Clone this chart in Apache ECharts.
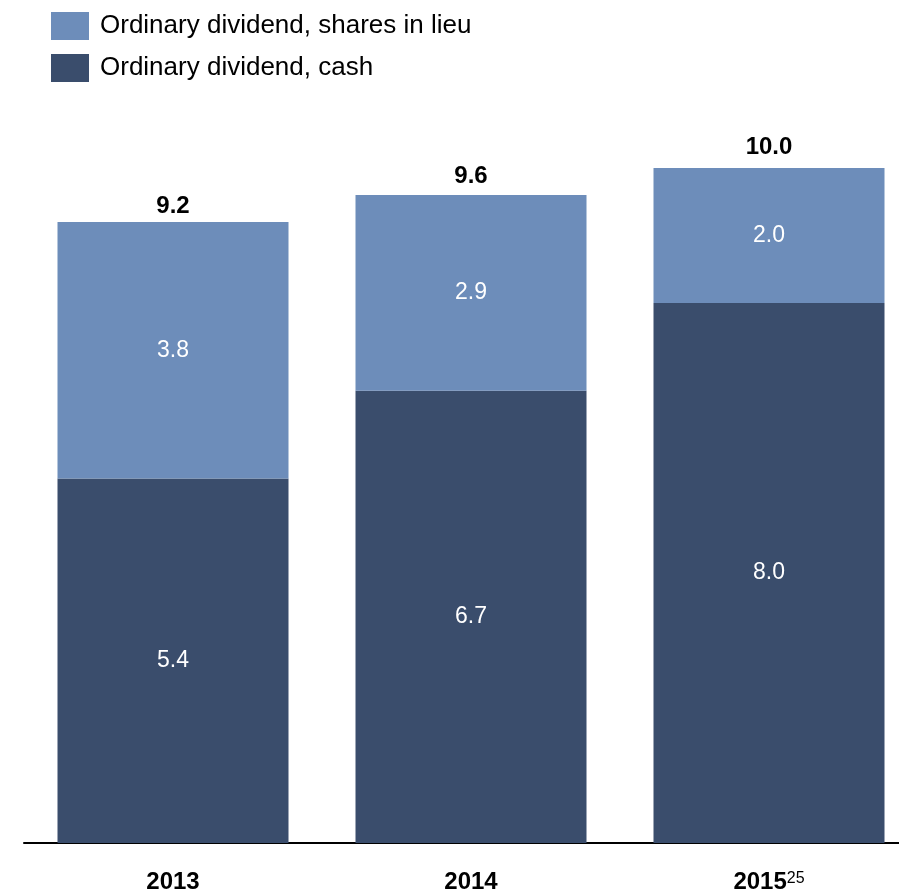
<!DOCTYPE html>
<html>
<head>
<meta charset="utf-8">
<script src="https://cdn.jsdelivr.net/npm/echarts@6/dist/echarts.min.js"></script>
<style>
html,body{margin:0;padding:0;background:#fff;}
#c{width:899px;height:896px;}
</style>
</head>
<body>
<div id="c"></div>
<script>
var categories = ['2013', '2014', '2015'];
var categoryNotes = ['', '', '25'];
var cashValues = [5.4, 6.7, 8.0];
var sharesValues = [3.8, 2.9, 2.0];
var totalValues = [9.2, 9.6, 10.0];
var seriesNames = ['Ordinary dividend, shares in lieu', 'Ordinary dividend, cash'];

// styling only: gap between bar top and its total label
var totalLabelGap = [4, 7, 9];

var FONT = '"Liberation Sans", Arial, sans-serif';
var chart = echarts.init(document.getElementById('c'));
chart.setOption({
  animation: false,
  textStyle: { fontFamily: FONT },
  legend: {
    orient: 'vertical', left: 51, top: 12, padding: 0,
    itemWidth: 38, itemHeight: 28, itemGap: 14,
    icon: 'rect',
    data: seriesNames,
    textStyle: { fontSize: 26, lineHeight: 24, color: '#000', fontFamily: FONT, padding: [4, 0, 0, 6] }
  },
  grid: { left: 24, width: 894, top: 168, bottom: 53, outerBoundsMode: 'none', containLabel: false },
  xAxis: {
    type: 'category',
    data: categories,
    axisLine: { lineStyle: { color: '#000', width: 2 } },
    axisTick: { show: false },
    axisLabel: {
      margin: 27,
      formatter: function (v, i) {
        return categoryNotes[i] ? '{a|' + v + '}{b|' + categoryNotes[i] + '}' : '{a|' + v + '}';
      },
      rich: {
        a: { fontSize: 24, lineHeight: 24, fontWeight: 'bold', color: '#000', fontFamily: FONT },
        b: { fontSize: 16, lineHeight: 16, color: '#000', fontFamily: FONT, padding: [0, 0, 6, 0] }
      }
    }
  },
  yAxis: {
    type: 'value', min: 0, max: 10,
    show: false,
    splitLine: { show: false }
  },
  series: [
    {
      name: seriesNames[1], type: 'bar', stack: 's', barWidth: 231,
      data: cashValues,
      itemStyle: { color: '#3a4d6c' },
      label: { show: true, position: 'inside', color: '#fff', fontSize: 23, fontFamily: FONT,
        formatter: function (p) { return p.value.toFixed(1); } }
    },
    {
      name: seriesNames[0], type: 'bar', stack: 's', barWidth: 231,
      data: sharesValues,
      itemStyle: { color: '#6d8dba' },
      label: { show: true, position: 'inside', color: '#fff', fontSize: 23, fontFamily: FONT,
        formatter: function (p) { return p.value.toFixed(1); } }
    },
    {
      name: 'total', type: 'bar', stack: 's', barWidth: 231,
      data: totalValues.map(function (t, i) {
        return { value: 0, label: { distance: totalLabelGap[i] } };
      }),
      itemStyle: { color: 'transparent' },
      label: { show: true, position: 'top', color: '#000', fontSize: 24, lineHeight: 24, fontWeight: 'bold', fontFamily: FONT,
        formatter: function (p) { return totalValues[p.dataIndex].toFixed(1); } }
    }
  ]
});
</script>
</body>
</html>
